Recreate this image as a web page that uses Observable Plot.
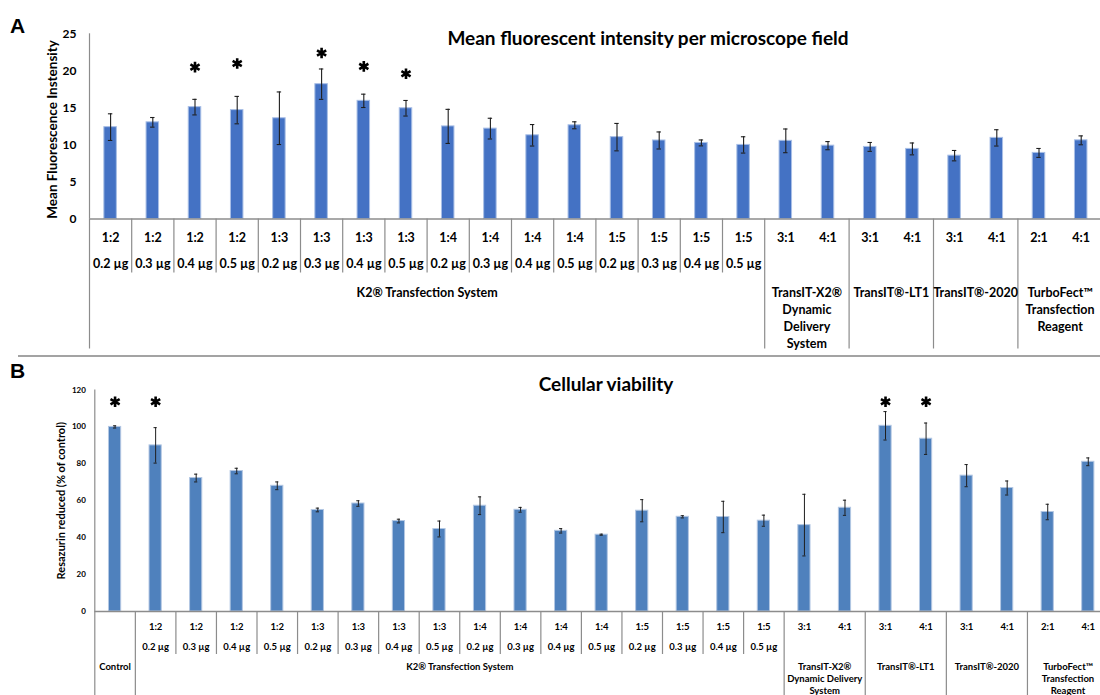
<!DOCTYPE html>
<html>
<head>
<meta charset="utf-8">
<script src="https://cdn.jsdelivr.net/npm/d3@7"></script>
<script src="https://cdn.jsdelivr.net/npm/@observablehq/plot@0.6"></script>
<style>
  body { margin: 0; background: #fff; }
  #root { position: relative; width: 1100px; height: 695px; overflow: hidden; background: #fff; }
  .panel { position: absolute; left: 0; }
  .letter { position: absolute; font-family: "Liberation Sans", Arial, sans-serif; font-weight: bold; font-size: 21px; line-height: 21px; color: #000; }
  .title { position: absolute; font-family: Lato, sans-serif; font-weight: bold; font-size: 19px; line-height: 20px; color: #000; transform: translate(-50%, -50%); white-space: nowrap; }
  .sep { position: absolute; left: 18px; width: 1082px; top: 355px; height: 2px; background: #a3a3a3; }
</style>
</head>
<body>
<div id="root">
  <div class="letter" style="left:10px;top:15px;">A</div>
  <div class="title" style="left:648px;top:38px;">Mean fluorescent intensity per microscope field</div>
  <div class="letter" style="left:10px;top:360px;">B</div>
  <div class="title" style="left:606px;top:384px;">Cellular viability</div>
  <div id="pa" class="panel" style="top:0px;"></div>
  <div id="pb" class="panel" style="top:356px;"></div>
  <div class="sep"></div>
</div>
<script>
// ---------- Panel A data ----------
const aRatio = ["1:2","1:2","1:2","1:2","1:3","1:3","1:3","1:3","1:4","1:4","1:4","1:4","1:5","1:5","1:5","1:5",
                "3:1","4:1","3:1","4:1","3:1","4:1","2:1","4:1"];
const aDose = ["0.2 µg","0.3 µg","0.4 µg","0.5 µg","0.2 µg","0.3 µg","0.4 µg","0.5 µg",
               "0.2 µg","0.3 µg","0.4 µg","0.5 µg","0.2 µg","0.3 µg","0.4 µg","0.5 µg",
               "","","","","","","",""];
const aMean = [12.4, 13.05, 15.1, 14.7, 13.6, 18.2, 15.95, 14.95, 12.5, 12.2, 11.3, 12.65, 11.05, 10.6, 10.27, 10.0,
               10.55, 9.9, 9.73, 9.46, 8.55, 10.95, 8.92, 10.62];
const aErr  = [1.8, 0.65, 1.05, 1.85, 3.55, 2.05, 0.9, 1.05, 2.3, 1.4, 1.45, 0.47, 1.85, 1.15, 0.4, 1.1,
               1.6, 0.55, 0.6, 0.8, 0.7, 1.1, 0.6, 0.6];
const aStarIdx = [2, 3, 5, 6, 7];
const aStarY = [20.5, 21.0, 22.4, 20.6, 19.6];
const aGroups = ["K2® Transfection System", "TransIT-X2®\nDynamic\nDelivery\nSystem", "TransIT®-LT1", "TransIT®-2020", "TurboFect™\nTransfection\nReagent"];
const aGroupStart = [0, 16, 18, 20, 22];
const aGroupEnd = [16, 18, 20, 22, 24];
const aDoseGroups = [0]; // groups with inner separators
const aTicks = [0, 5, 10, 15, 20, 25];
const aYLabel = "Mean Fluorescence Instensity";

// ---------- Panel B data ----------
const bRatio = ["","1:2","1:2","1:2","1:2","1:3","1:3","1:3","1:3","1:4","1:4","1:4","1:4","1:5","1:5","1:5","1:5",
                "3:1","4:1","3:1","4:1","3:1","4:1","2:1","4:1"];
const bDose = ["","0.2 µg","0.3 µg","0.4 µg","0.5 µg","0.2 µg","0.3 µg","0.4 µg","0.5 µg",
               "0.2 µg","0.3 µg","0.4 µg","0.5 µg","0.2 µg","0.3 µg","0.4 µg","0.5 µg",
               "","","","","","","",""];
const bMean = [100, 90.0, 72.3, 76.1, 68.1, 55.0, 58.5, 49.0, 44.7, 57.3, 55.1, 43.7, 41.6, 54.6, 51.3, 51.2, 49.2,
               46.8, 56.2, 100.6, 93.6, 73.6, 66.9, 53.9, 81.1];
const bErr  = [0.6, 9.6, 2.1, 1.5, 2.1, 1.0, 1.5, 1.0, 4.3, 4.8, 1.3, 1.2, 0.3, 6.0, 0.6, 8.5, 3.0,
               16.7, 4.1, 7.7, 8.5, 6.0, 3.8, 4.2, 2.1];
const bStarIdx = [0, 1, 19, 20];
const bStarY = [113.6, 113.6, 113.6, 113.6];
const bGroups = ["Control", "K2® Transfection System", "TransIT-X2®\nDynamic Delivery\nSystem", "TransIT®-LT1", "TransIT®-2020", "TurboFect™\nTransfection\nReagent"];
const bGroupStart = [0, 1, 17, 19, 21, 23];
const bGroupEnd = [1, 17, 19, 21, 23, 25];
const bDoseGroups = [1];
const bTicks = [0, 20, 40, 60, 80, 100, 120];
const bYLabel = "Resazurin reduced (% of control)";

function panel(c) {
  const n = c.mean.length;
  const rows = c.mean.map((m, i) => ({i, m, e: c.err[i], ratio: c.ratio[i], dose: c.dose[i]}));
  const groups = c.groups.map((name, k) => ({name, s: c.gStart[k], e: c.gEnd[k]}));
  const bounds = groups.map(g => g.s).concat([n]);
  const inner = [];
  c.doseGroups.forEach(k => { for (let j = groups[k].s + 1; j < groups[k].e; j++) inner.push(j); });
  const stars = c.starIdx.map((i, k) => ({i, y: c.starY[k]}));
  const bw = c.barPx / c.step / 2;
  const cap = c.capPx / c.step;
  const axisColor = "#8c8c8c";
  return Plot.plot({
    width: 1100,
    height: c.height,
    marginLeft: c.x0,
    marginRight: 0,
    marginTop: c.mt,
    marginBottom: c.mb,
    x: {domain: [0, n], range: [c.x0, c.x0 + c.step * n], axis: null},
    y: {domain: [0, c.ymax], axis: null},
    style: {fontFamily: "Lato, sans-serif", fontWeight: "bold", color: "#000", background: "transparent", overflow: "visible"},
    marks: [
      Plot.rect(rows, {x1: d => d.i + 0.5 - bw, x2: d => d.i + 0.5 + bw, y1: () => 0, y2: "m",
                       fill: c.barColor, stroke: c.barEdge, strokeWidth: 1}),
      Plot.ruleX(rows, {x: d => d.i + 0.5, y1: d => d.m - d.e, y2: d => d.m + d.e, stroke: "#1e1e1e", strokeWidth: c.errW}),
      Plot.ruleY(rows, {y: d => d.m + d.e, x1: d => d.i + 0.5 - cap, x2: d => d.i + 0.5 + cap, stroke: "#1e1e1e", strokeWidth: c.errW}),
      Plot.ruleY(rows, {y: d => d.m - d.e, x1: d => d.i + 0.5 - cap, x2: d => d.i + 0.5 + cap, stroke: "#1e1e1e", strokeWidth: c.errW}),
      Plot.ruleX([0], {y1: () => 0, y2: () => c.ymax, stroke: axisColor, strokeWidth: 1.2}),
      Plot.ruleY([0], {x1: () => 0, x2: () => n, stroke: axisColor, strokeWidth: 1.5}),
      Plot.ruleX(bounds, {x: d => d, y1: () => 0, y2: () => 0, insetBottom: -c.groupLen, stroke: axisColor, strokeWidth: 1.2}),
      Plot.ruleX(inner, {x: d => d, y1: () => 0, y2: () => 0, insetBottom: -c.innerLen, stroke: axisColor, strokeWidth: 1.2}),
      Plot.axisY(c.ticks, {anchor: "left", tickSize: 0, tickPadding: c.tickPad, fontSize: c.tickFont, label: null}),
      Plot.text([c.yLabel], {frameAnchor: "left", textAnchor: "middle", rotate: -90, dx: c.ylabDx, dy: c.ylabDy, fontSize: c.ylabFont}),
      Plot.dot(stars, {x: d => d.i + 0.5, y: "y", symbol: "asterisk", r: c.starR, stroke: "#000", strokeWidth: 2.6}),
      Plot.text(rows, {x: d => d.i + 0.5, y: () => 0, text: "ratio", dy: c.row1, fontSize: c.catFont}),
      Plot.text(rows, {x: d => d.i + 0.5, y: () => 0, text: "dose", dy: c.row2, fontSize: c.catFont}),
      Plot.text(groups, {x: d => (d.s + d.e) / 2, y: () => 0, text: "name", dy: c.row3, lineAnchor: "top",
                         lineHeight: c.lineH, fontSize: c.catFont})
    ]
  });
}

document.getElementById("pa").appendChild(panel({
  mean: aMean, err: aErr, ratio: aRatio, dose: aDose, groups: aGroups, gStart: aGroupStart, gEnd: aGroupEnd,
  doseGroups: aDoseGroups, starIdx: aStarIdx, starY: aStarY, ticks: aTicks, yLabel: aYLabel,
  height: 356, x0: 89, step: 42.2, mt: 33.3, mb: 137.5, ymax: 25,
  barPx: 12.5, capPx: 2.2, errW: 1.1, barColor: "#4472c4", barEdge: "#a9bfe6",
  groupLen: 130, innerLen: 54, tickPad: 13, tickFont: 12, ylabDx: -37, ylabDy: 3, ylabFont: 13.5,
  starR: 5, row1: 19, row2: 44.5, row3: 66, lineH: 1.36, catFont: 12.5
}));

document.getElementById("pb").appendChild(panel({
  mean: bMean, err: bErr, ratio: bRatio, dose: bDose, groups: bGroups, gStart: bGroupStart, gEnd: bGroupEnd,
  doseGroups: bDoseGroups, starIdx: bStarIdx, starY: bStarY, ticks: bTicks, yLabel: bYLabel,
  height: 339, x0: 94.3, step: 40.55, mt: 33.5, mb: 84, ymax: 120,
  barPx: 12.2, capPx: 1.6, errW: 1, barColor: "#4f81bd", barEdge: "#b3c7e3",
  groupLen: 100, innerLen: 43, tickPad: 9, tickFont: 8, ylabDx: -33, ylabDy: 0, ylabFont: 11,
  starR: 5, row1: 15, row2: 35, row3: 49.5, lineH: 1.3, catFont: 9.5
}));
</script>
</body>
</html>
